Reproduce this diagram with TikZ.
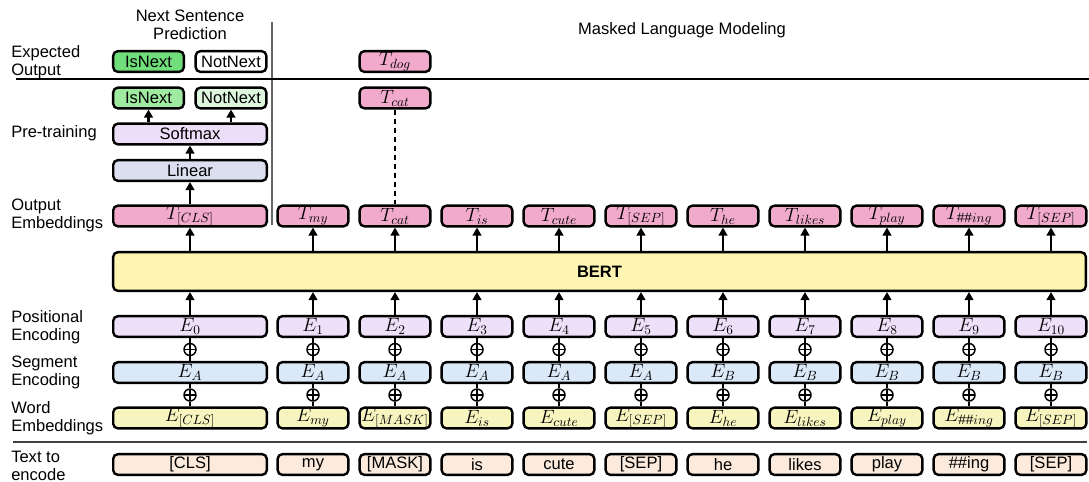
\documentclass[tikz,border=0pt]{standalone}
\usepackage{fontspec}
\setmainfont{Liberation Sans}
\usetikzlibrary{arrows.meta}

\definecolor{tpink}{RGB}{241,169,204}
\definecolor{bertyel}{RGB}{255,245,178}
\definecolor{poslav}{RGB}{237,224,248}
\definecolor{segblue}{RGB}{218,232,248}
\definecolor{wordyel}{RGB}{248,244,192}
\definecolor{textpeach}{RGB}{252,235,221}
\definecolor{softlav}{RGB}{236,222,248}
\definecolor{linblue}{RGB}{220,223,240}
\definecolor{greenA}{RGB}{112,222,122}
\definecolor{greenB}{RGB}{160,233,160}
\definecolor{greenC}{RGB}{222,246,222}

\newcommand{\lblfont}{\fontsize{12.4}{13.5}\selectfont}
\newcommand{\mathfontsz}{\fontsize{14.6}{16}\selectfont}

\begin{document}
\begin{tikzpicture}[x=0.75pt,y=-0.75pt,
  box/.style={draw, line width=1.8pt, rounded corners=3.5pt, minimum height=15.5pt,
    inner sep=0pt, font=\lblfont},
  cell/.style={box, minimum width=53pt},
  wide/.style={box, minimum width=115.2pt},
  mcell/.style={cell, font=\mathfontsz},
  mwide/.style={wide, font=\mathfontsz},
  up/.style={line width=1.6pt, -{Triangle[width=6.5pt,length=6pt]}},
  thinline/.style={line width=1pt},
  plus/.style={circle, draw, line width=1.1pt, fill=white, minimum size=9pt, inner sep=0pt,
    path picture={\draw[line width=1.1pt]
      (path picture bounding box.north) -- (path picture bounding box.south)
      (path picture bounding box.west) -- (path picture bounding box.east);}},
  lbl/.style={anchor=west, align=left, inner sep=0pt, font=\lblfont},
]
\fill[white] (0,0) rectangle (1089,482);
\useasboundingbox (0,0) rectangle (1089,482);

% section headings and dividers
\node[align=center, inner sep=0pt, font=\lblfont] (nsp) at (190,25) {Next Sentence\\Prediction};
\node[inner sep=0pt, font=\lblfont] (mlm) at (682,30) {Masked Language Modeling};
\draw[black!60, line width=1.1pt] (272,22) -- (272,225);
\draw[line width=0.8pt] (16,79) -- (1089,79);
\draw[black!75, line width=0.8pt] (13,442) -- (1087,442);

% row labels
\node[lbl] (l1) at (11,62) {Expected\\Output};
\node[lbl] (l2) at (11,133) {Pre-training};
\node[lbl] (l3) at (11,215) {Output\\Embeddings};
\node[lbl] (l4) at (11,327) {Positional\\Encoding};
\node[lbl] (l5) at (11,372) {Segment\\Encoding};
\node[lbl] (l6) at (11,418) {Word\\Embeddings};
\node[lbl] (l7) at (11,466) {Text to\\encode};

% next sentence prediction head
\node[cell, fill=greenA] (eis) at (148.5,61.5) {IsNext};
\node[cell, fill=white] (enot) at (231,61.5) {NotNext};
\node[cell, fill=greenB] (pis) at (148.5,98) {IsNext};
\node[cell, fill=greenC] (pnot) at (231,98) {NotNext};
\node[wide, fill=softlav] (soft) at (190,134) {Softmax};
\node[wide, fill=linblue] (lin) at (190,170.5) {Linear};

% masked token prediction
\node[mcell, fill=tpink] (tdog) at (395,61.5) {$T_{dog}$};
\node[mcell, fill=tpink] (tcat) at (395,98) {$T_{cat}$};

% output embeddings
\node[mwide, fill=tpink] (t0) at (190,216) {$T_{[CLS]}$};
\node[mcell, fill=tpink] (t1) at (313,216) {$T_{my}$};
\node[mcell, fill=tpink] (t2) at (395,216) {$T_{cat}$};
\node[mcell, fill=tpink] (t3) at (477,216) {$T_{is}$};
\node[mcell, fill=tpink] (t4) at (559,216) {$T_{cute}$};
\node[mcell, fill=tpink] (t5) at (641,216) {$T_{[SEP]}$};
\node[mcell, fill=tpink] (t6) at (723,216) {$T_{he}$};
\node[mcell, fill=tpink] (t7) at (805,216) {$T_{likes}$};
\node[mcell, fill=tpink] (t8) at (887,216) {$T_{play}$};
\node[mcell, fill=tpink] (t9) at (969,216) {$T_{\#\#ing}$};
\node[mcell, fill=tpink] (t10) at (1051,216) {$T_{[SEP]}$};

% encoder
\node[box, fill=bertyel, minimum width=729.5pt, minimum height=29pt, font=\lblfont\bfseries]
  (bert) at (599.5,271.5) {BERT};

% positional encoding
\node[mwide, fill=poslav] (p0) at (190,326.5) {$E_0$};
\foreach \i in {1,...,10}{
  \node[mcell, fill=poslav] (p\i) at ({231+82*\i},326.5) {$E_{\i}$};
}

% segment encoding
\node[mwide, fill=segblue] (s0) at (190,372.5) {$E_A$};
\foreach \i/\g in {1/A,2/A,3/A,4/A,5/A,6/B,7/B,8/B,9/B,10/B}{
  \node[mcell, fill=segblue] (s\i) at ({231+82*\i},372.5) {$E_\g$};
}

% word embeddings
\node[mwide, fill=wordyel] (w0) at (190,418) {$E_{[CLS]}$};
\node[mcell, fill=wordyel] (w1) at (313,418) {$E_{my}$};
\node[mcell, fill=wordyel] (w2) at (395,418) {$E_{[MASK]}$};
\node[mcell, fill=wordyel] (w3) at (477,418) {$E_{is}$};
\node[mcell, fill=wordyel] (w4) at (559,418) {$E_{cute}$};
\node[mcell, fill=wordyel] (w5) at (641,418) {$E_{[SEP]}$};
\node[mcell, fill=wordyel] (w6) at (723,418) {$E_{he}$};
\node[mcell, fill=wordyel] (w7) at (805,418) {$E_{likes}$};
\node[mcell, fill=wordyel] (w8) at (887,418) {$E_{play}$};
\node[mcell, fill=wordyel] (w9) at (969,418) {$E_{\#\#ing}$};
\node[mcell, fill=wordyel] (w10) at (1051,418) {$E_{[SEP]}$};

% input tokens
\node[wide, fill=textpeach] (x0) at (190,464.5) {[CLS]};
\node[cell, fill=textpeach] (x1) at (313,464.5) {my};
\node[cell, fill=textpeach] (x2) at (395,464.5) {[MASK]};
\node[cell, fill=textpeach] (x3) at (477,464.5) {is};
\node[cell, fill=textpeach] (x4) at (559,464.5) {cute};
\node[cell, fill=textpeach] (x5) at (641,464.5) {[SEP]};
\node[cell, fill=textpeach] (x6) at (723,464.5) {he};
\node[cell, fill=textpeach] (x7) at (805,464.5) {likes};
\node[cell, fill=textpeach] (x8) at (887,464.5) {play};
\node[cell, fill=textpeach] (x9) at (969,464.5) {\#\#ing};
\node[cell, fill=textpeach] (x10) at (1051,464.5) {[SEP]};

% sums of the three embeddings
\foreach \i in {0,...,10}{
  \node[plus] (a\i) at (p\i.south |- 0,349.5) {};
  \node[plus] (c\i) at (p\i.south |- 0,395) {};
  \draw[thinline] (p\i.south) -- (a\i) -- (s\i.north);
  \draw[thinline] (s\i.south) -- (c\i) -- (w\i.north);
}

% flow through the encoder
\foreach \i in {0,...,10}{
  \draw[up] (p\i.north) -- (p\i.north |- bert.south);
  \draw[up] (bert.north -| t\i.south) -- (t\i.south);
}

% classification head arrows
\draw[up] (t0.north) -- (lin.south);
\draw[up] (lin.north) -- (soft.south);
\draw[up] (soft.north -| pis.south) -- (pis.south);
\draw[up] (soft.north -| pnot.south) -- (pnot.south);

% masked position link
\draw[line width=1.1pt, dash pattern=on 3.75pt off 3pt] (tcat.south) -- (t2.north);
\end{tikzpicture}
\end{document}
